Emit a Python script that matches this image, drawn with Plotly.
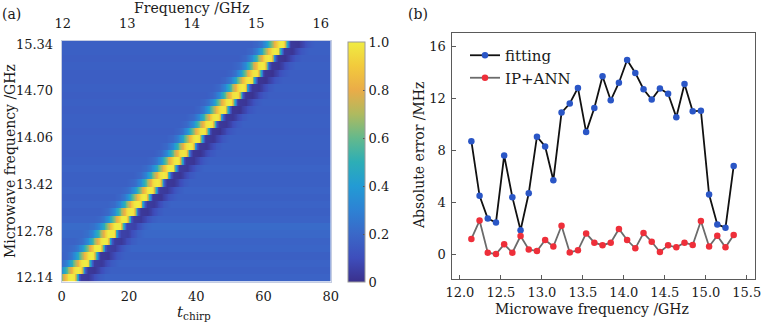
import numpy as np
import plotly.graph_objects as go

# ---------------- data ----------------
# microwave frequencies (GHz) of the measured tones
freq = [12.14, 12.24, 12.34, 12.44, 12.54, 12.64, 12.74, 12.84, 12.94, 13.04, 13.14,
        13.24, 13.34, 13.44, 13.54, 13.64, 13.74, 13.84, 13.94, 14.04, 14.14, 14.24,
        14.34, 14.44, 14.54, 14.64, 14.74, 14.84, 14.94, 15.04, 15.14, 15.24, 15.34]

# absolute frequency error (MHz)
fitting_err = [8.7, 4.5, 2.75, 2.45, 7.6, 4.4, 1.85, 4.7, 9.05, 8.3, 5.7, 10.9, 11.6,
               12.8, 9.4, 11.25, 13.7, 11.85, 13.2, 14.95, 13.95, 12.7, 11.9, 12.75,
               12.35, 10.55, 13.1, 11.0, 11.05, 4.6, 2.3, 2.05, 6.8]
ipann_err = [1.18, 2.6, 0.13, 0.02, 0.77, 0.13, 1.41, 0.38, 0.25, 1.1, 0.6, 2.2, 0.15,
             0.31, 1.61, 0.9, 0.7, 0.9, 1.95, 1.1, 0.46, 1.64, 0.97, 0.18, 0.69, 0.54,
             0.9, 0.72, 2.56, 0.6, 1.43, 0.54, 1.48]

# chirp-time position of the response maximum for each tone
peak_t = [3.1, 5.0, 7.0, 8.9, 10.9, 12.9, 14.8, 16.8, 18.7, 20.7, 22.6, 24.6, 26.5,
          28.5, 30.4, 32.4, 34.3, 36.3, 38.2, 40.2, 42.1, 44.1, 46.0, 48.0, 49.9,
          51.9, 53.8, 55.8, 57.7, 59.7, 61.6, 63.6, 65.5]
# normalised background level of each row
row_bg = [0.18, 0.17, 0.18, 0.17, 0.19, 0.18, 0.20, 0.21, 0.18, 0.17, 0.18, 0.17,
          0.18, 0.17, 0.17, 0.18, 0.17, 0.16, 0.17, 0.17, 0.16, 0.17, 0.17, 0.16,
          0.17, 0.16, 0.17, 0.16, 0.16, 0.17, 0.16, 0.17, 0.17]
# response around the maximum (offset in chirp units -> level above background)
shape_offset = [-9, -7, -6, -5, -4, -3, -2, -1, 0, 0.8, 1.6, 2.2, 2.8, 5, 6, 7, 8, 10]
shape_level = [0.0, 0.03, 0.08, 0.16, 0.3, 0.48, 0.66, 0.8, 0.83, 0.8, 0.3,
               -0.05, -0.14, -0.15, -0.11, -0.07, -0.03, 0.0]

t_ticks = [0, 20, 40, 60, 80]
f_ticks = [12.14, 12.78, 13.42, 14.06, 14.70, 15.34]
f_tick_text = ["12.14", "12.78", "13.42", "14.06", "14.70", "15.34"]
top_ticks = [12, 13, 14, 15, 16]
cb_ticks = [0, 0.2, 0.4, 0.6, 0.8, 1.0]
cb_text = ["0", "0.2", "0.4", "0.6", "0.8", "1.0"]
b_xticks = [12.0, 12.5, 13.0, 13.5, 14.0, 14.5, 15.0, 15.5]
b_yticks = [0, 4, 8, 12, 16]

# ---------------- heatmap matrix ----------------
t_grid = np.arange(0.125, 80.0, 0.25)
z = np.array([
    np.clip(bg + np.interp(t_grid - c, shape_offset, shape_level), 0, 1)
    for c, bg in zip(peak_t, row_bg)
])
fz = np.array(freq)
y_edges = np.concatenate([[fz[0] - 0.05], (fz[:-1] + fz[1:]) / 2, [fz[-1] + 0.05]])

# soft parula-like colour map
parula = [
    [0.0, "rgb(58,48,140)"], [0.1, "rgb(62,78,188)"], [0.2, "rgb(58,104,200)"],
    [0.3, "rgb(45,130,212)"], [0.4, "rgb(35,155,212)"], [0.5, "rgb(45,174,182)"],
    [0.6, "rgb(100,185,140)"], [0.7, "rgb(175,186,95)"], [0.8, "rgb(234,172,72)"],
    [0.9, "rgb(242,202,60)"], [1.0, "rgb(240,236,66)"],
]

W, H = 766, 324
def px(x):
    return x / W
def py(y):
    return 1 - y / H

FONT = "DejaVu Serif"
INK = "#1a1a1a"

fig = go.Figure()

fig.add_trace(go.Heatmap(
    x=t_grid, y=y_edges, z=z, zmin=0, zmax=1, colorscale=parula,
    xaxis="x", yaxis="y", hoverinfo="skip",
    colorbar=dict(
        x=px(347.5), xanchor="left", xref="paper", xpad=0,
        y=py(282), yanchor="bottom", yref="paper", ypad=0,
        len=240, lenmode="pixels", thickness=17, thicknessmode="pixels",
        outlinewidth=1, outlinecolor="#9a9a9a",
        tickvals=cb_ticks, ticktext=cb_text, ticks="inside", ticklen=2,
        tickcolor="#555", tickfont=dict(family=FONT, size=13, color=INK),
    ),
))

# frequency scale along the top of panel (a)
fig.add_trace(go.Scatter(
    x=freq, y=freq, xaxis="x2", yaxis="y", mode="markers",
    marker=dict(opacity=0), showlegend=False, hoverinfo="skip",
))

fig.add_trace(go.Scatter(
    x=freq, y=fitting_err, xaxis="x3", yaxis="y3", name="fitting",
    mode="lines+markers", line=dict(color="#111111", width=1.8),
    marker=dict(color="#2a56c6", size=6.5),
))
fig.add_trace(go.Scatter(
    x=freq, y=ipann_err, xaxis="x3", yaxis="y3", name="IP+ANN",
    mode="lines+markers", line=dict(color="#6b6b6b", width=1.8),
    marker=dict(color="#ee2f3a", size=6.5),
))

tickfont = dict(family=FONT, size=13, color=INK)

fig.update_layout(
    width=W, height=H, margin=dict(l=0, r=0, t=0, b=0, autoexpand=False),
    paper_bgcolor="white", plot_bgcolor="white",
    font=dict(family=FONT, size=13, color=INK),
    xaxis=dict(domain=[px(61.7), px(330.7)], range=[0, 80], tickvals=t_ticks,
               showgrid=False, zeroline=False, showline=True, mirror=True,
               linecolor="#c5cde2", linewidth=1, ticks="", tickfont=tickfont,
               anchor="y", ticklabelstandoff=3, automargin=False),
    yaxis=dict(domain=[py(281.5), py(40.5)], range=[12.09, 15.39], tickvals=f_ticks,
               ticktext=f_tick_text, showgrid=False, zeroline=False, showline=True,
               mirror=True, linecolor="#c5cde2", linewidth=1, ticks="",
               tickfont=tickfont, anchor="x", ticklabelstandoff=5, automargin=False),
    xaxis2=dict(overlaying="x", side="top", anchor="y", range=[11.985, 16.155],
                tickvals=top_ticks, showgrid=False, zeroline=False, ticks="",
                tickfont=tickfont, ticklabelstandoff=9, automargin=False),
    xaxis3=dict(domain=[px(451.7), px(755)], range=[11.9, 15.6], tickvals=b_xticks,
                ticktext=[f"{v:.1f}" for v in b_xticks], anchor="y3",
                showgrid=False, zeroline=False, showline=True, mirror=True,
                linecolor="#5a5a5a", linewidth=1.4, ticks="inside", ticklen=4,
                tickcolor="#5a5a5a", tickfont=tickfont, ticklabelstandoff=1,
                automargin=False),
    yaxis3=dict(domain=[py(279.3), py(33.3)], range=[-1.92, 17.0], tickvals=b_yticks,
                anchor="x3", showgrid=False, zeroline=False, showline=True,
                mirror=True, linecolor="#5a5a5a", linewidth=1.4, ticks="inside",
                ticklen=4, tickcolor="#5a5a5a", tickfont=tickfont,
                ticklabelstandoff=2, automargin=False),
    legend=dict(x=px(465), y=py(39), xanchor="left", yanchor="top",
                bgcolor="rgba(0,0,0,0)", font=dict(family=FONT, size=15, color=INK),
                tracegroupgap=0, itemwidth=30),
    showlegend=True,
)

annotations = [
    dict(text="(a)", x=px(0), y=py(14), xanchor="left", yanchor="middle", size=14),
    dict(text="(b)", x=px(406), y=py(14), xanchor="left", yanchor="middle", size=14),
    dict(text="Frequency /GHz", x=px(192), y=py(8), xanchor="center",
         yanchor="middle", size=14),
    dict(text="<i>t</i><sub>chirp</sub>", x=px(194), y=py(312), xanchor="center",
         yanchor="middle", size=15),
    dict(text="Microwave frequency /GHz", x=px(10), y=py(161), xanchor="center",
         yanchor="middle", size=14, angle=-90),
    dict(text="Absolute error /MHz", x=px(419), y=py(156), xanchor="center",
         yanchor="middle", size=14, angle=-90),
    dict(text="Microwave frequency /GHz", x=px(592), y=py(309), xanchor="center",
         yanchor="middle", size=14),
]
for a in annotations:
    fig.add_annotation(text=a["text"], x=a["x"], y=a["y"], xref="paper", yref="paper",
                       xanchor=a["xanchor"], yanchor=a["yanchor"], showarrow=False,
                       textangle=a.get("angle", 0),
                       font=dict(family=FONT, size=a["size"], color=INK))

fig.write_html("out.html")
